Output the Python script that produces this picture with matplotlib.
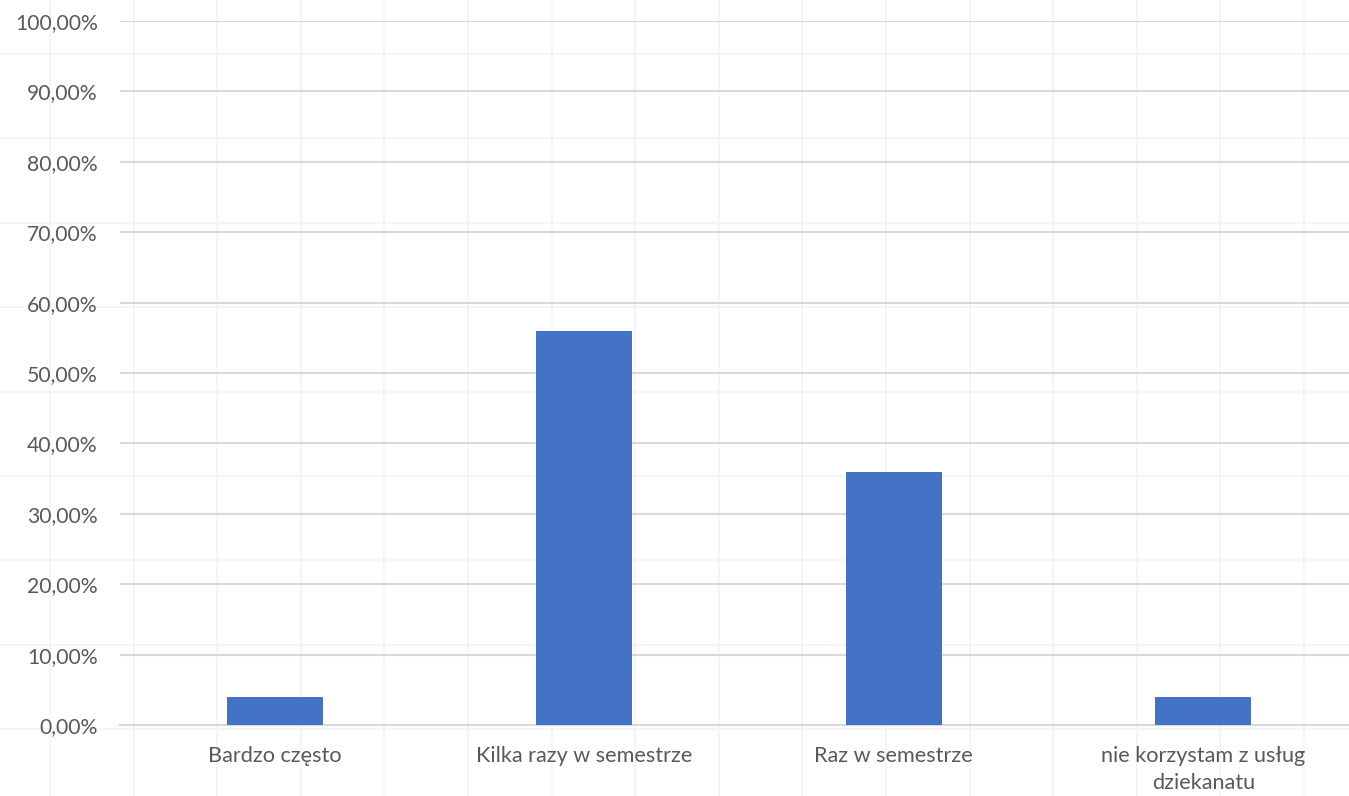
import matplotlib
matplotlib.use("Agg")
import matplotlib.pyplot as plt
import numpy as np

# data
categories = ["Bardzo często", "Kilka razy w semestrze", "Raz w semestrze",
              "nie korzystam z usług\ndziekanatu"]
values = [4.0, 56.0, 36.0, 4.0]
yticks = np.arange(0, 101, 10)

plt.rcParams['font.family'] = ['Lato', 'DejaVu Sans']

fig = plt.figure(figsize=(13.49, 7.96), dpi=100)

# faint spreadsheet cells behind the chart
bg = fig.add_axes([0, 0, 1, 1], zorder=0)
bg.set_xlim(0, 1349)
bg.set_ylim(796, 0)
bg.set_xticks(np.arange(50, 1349, 83.6))
bg.set_yticks(np.arange(54, 796, 84.4))
bg.grid(True, color="#f4f4f4", linewidth=1.2)
bg.tick_params(length=0, labelbottom=False, labelleft=False)
for s in bg.spines.values():
    s.set_visible(False)

ax = fig.add_axes([120 / 1349, 1 - 725 / 796, 1229 / 1349, 704 / 796], zorder=1)
ax.patch.set_alpha(0)
x = np.arange(len(categories))
ax.bar(x, values, width=0.31, color="#4472c4", zorder=3)

ax.set_xlim(-0.5, -0.5 + 1229 / 309.5)
ax.set_ylim(0, 100)
ax.set_yticks(yticks)
ax.yaxis.set_major_formatter(matplotlib.ticker.FuncFormatter(
    lambda v, p: ("%.2f%%" % v).replace(".", ",")))
ax.set_xticks(x)
ax.set_xticklabels(categories, linespacing=1.45, va="top")
ax.grid(axis="y", color="#d9d9d9", linewidth=1.5, zorder=0)
ax.tick_params(axis="y", length=0, pad=16, labelsize=15.2, labelcolor="#595959")
ax.tick_params(axis="x", length=0, pad=15, labelsize=15.6, labelcolor="#595959")
for s in ["top", "right", "left"]:
    ax.spines[s].set_visible(False)
ax.spines["bottom"].set_color("#d9d9d9")
ax.spines["bottom"].set_linewidth(1.5)
ax.set_axisbelow(True)

fig.savefig("out.png", dpi=100)
